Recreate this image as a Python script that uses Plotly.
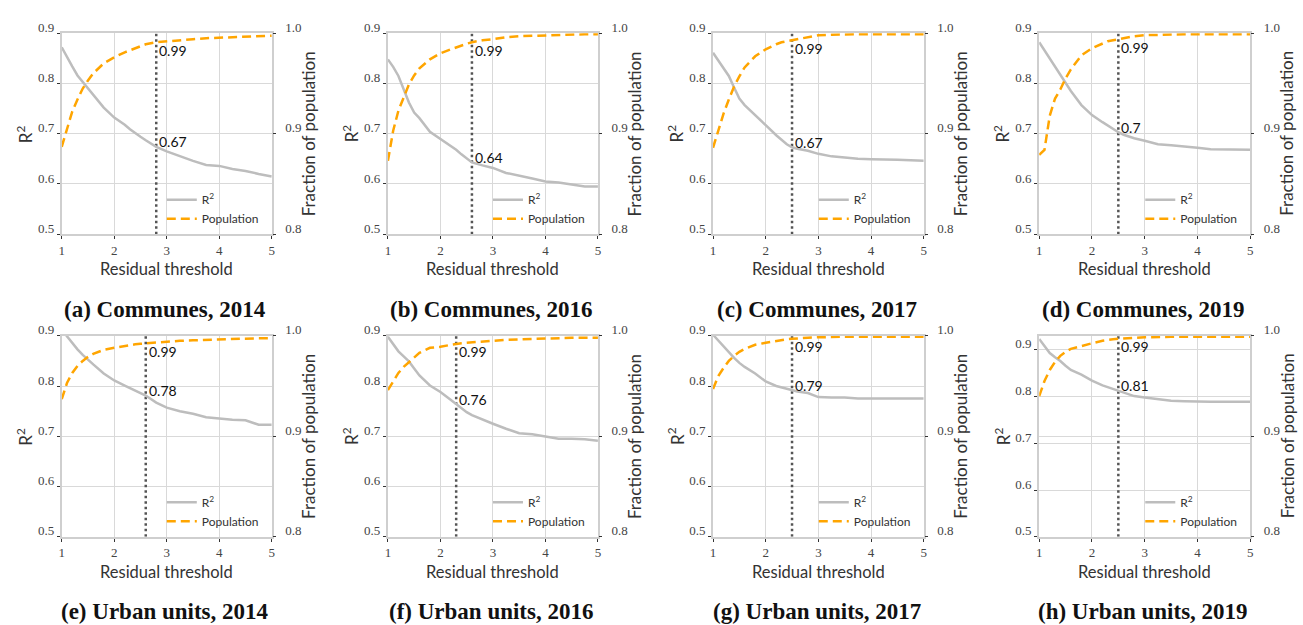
import math
import plotly.graph_objects as go

# Residual thresholds at which the fit was evaluated
THRESHOLDS = [1.0, 1.1, 1.2, 1.3, 1.4, 1.5, 1.6, 1.8, 2.0, 2.2, 2.3, 2.4,
              2.5, 2.6, 2.8, 3.0, 3.25, 3.5, 3.75, 4.0, 4.25, 4.5, 4.75, 5.0]

PANEL_TITLES = ["(a) Communes, 2014", "(b) Communes, 2016",
                "(c) Communes, 2017", "(d) Communes, 2019",
                "(e) Urban units, 2014", "(f) Urban units, 2016",
                "(g) Urban units, 2017", "(h) Urban units, 2019"]

# Chosen cut-off for each panel (dotted vertical line)
CUTOFFS = [2.8, 2.6, 2.5, 2.5, 2.6, 2.3, 2.5, 2.5]

# R^2 of the fit after removing units above the threshold
r2_communes_2014 = [0.872, 0.852, 0.834, 0.816, 0.803, 0.790, 0.777, 0.752, 0.732, 0.718, 0.709, 0.701,
                    0.694, 0.687, 0.674, 0.665, 0.655, 0.646, 0.638, 0.636, 0.630, 0.626, 0.620, 0.615]
r2_communes_2016 = [0.848, 0.833, 0.815, 0.789, 0.762, 0.742, 0.731, 0.704, 0.690, 0.676, 0.668, 0.659,
                    0.651, 0.643, 0.637, 0.632, 0.622, 0.617, 0.611, 0.605, 0.603, 0.599, 0.595, 0.595]
r2_communes_2017 = [0.861, 0.846, 0.830, 0.815, 0.792, 0.770, 0.757, 0.738, 0.717, 0.697, 0.687, 0.679,
                    0.673, 0.670, 0.666, 0.660, 0.655, 0.652, 0.650, 0.649, 0.649, 0.648, 0.647, 0.646]
r2_communes_2019 = [0.882, 0.866, 0.850, 0.833, 0.817, 0.800, 0.785, 0.757, 0.737, 0.723, 0.716, 0.709,
                    0.703, 0.698, 0.691, 0.686, 0.679, 0.677, 0.675, 0.672, 0.669, 0.669, 0.668, 0.668]
r2_urban_2014 = [0.912, 0.899, 0.885, 0.873, 0.862, 0.852, 0.843, 0.825, 0.811, 0.801, 0.796, 0.791,
                 0.786, 0.781, 0.767, 0.757, 0.750, 0.745, 0.738, 0.735, 0.733, 0.732, 0.723, 0.723]
r2_urban_2016 = [0.898, 0.883, 0.869, 0.859, 0.849, 0.835, 0.821, 0.801, 0.788, 0.772, 0.764, 0.757,
                 0.748, 0.742, 0.733, 0.725, 0.715, 0.706, 0.704, 0.700, 0.695, 0.695, 0.694, 0.691]
r2_urban_2017 = [0.902, 0.890, 0.878, 0.866, 0.856, 0.846, 0.838, 0.825, 0.809, 0.800, 0.797, 0.794,
                 0.791, 0.789, 0.786, 0.778, 0.777, 0.777, 0.775, 0.775, 0.775, 0.775, 0.775, 0.775]
r2_urban_2019 = [0.923, 0.908, 0.893, 0.884, 0.876, 0.866, 0.857, 0.847, 0.834, 0.824, 0.820, 0.816,
                 0.813, 0.809, 0.801, 0.798, 0.795, 0.791, 0.790, 0.789, 0.789, 0.789, 0.789, 0.789]

# Fraction of the population kept at each threshold
pop_communes_2014 = [0.887, 0.905, 0.922, 0.934, 0.945, 0.953, 0.960, 0.970, 0.976, 0.981, 0.983, 0.985,
                     0.987, 0.989, 0.991, 0.992, 0.993, 0.994, 0.995, 0.9955, 0.996, 0.9965, 0.997, 0.9975]
pop_communes_2016 = [0.873, 0.903, 0.923, 0.937, 0.949, 0.958, 0.965, 0.974, 0.980, 0.984, 0.986, 0.988,
                     0.9895, 0.991, 0.993, 0.994, 0.996, 0.997, 0.9975, 0.998, 0.9985, 0.9988, 0.999, 0.999]
pop_communes_2017 = [0.886, 0.904, 0.920, 0.934, 0.947, 0.957, 0.966, 0.977, 0.984, 0.989, 0.991, 0.992,
                     0.993, 0.994, 0.996, 0.998, 0.9985, 0.999, 0.999, 0.999, 0.999, 0.999, 0.999, 0.999]
pop_communes_2019 = [0.879, 0.884, 0.918, 0.935, 0.944, 0.955, 0.964, 0.978, 0.985, 0.990, 0.992, 0.993,
                     0.994, 0.995, 0.997, 0.998, 0.9985, 0.999, 0.999, 0.999, 0.999, 0.999, 0.999, 0.999]
pop_urban_2014 = [0.937, 0.953, 0.963, 0.970, 0.975, 0.979, 0.982, 0.986, 0.988, 0.990, 0.991, 0.9915,
                  0.992, 0.9925, 0.993, 0.994, 0.995, 0.9955, 0.996, 0.9965, 0.997, 0.997, 0.9975, 0.9975]
pop_urban_2016 = [0.946, 0.955, 0.963, 0.969, 0.974, 0.979, 0.983, 0.988, 0.989, 0.991, 0.992, 0.9925,
                  0.993, 0.9935, 0.9945, 0.995, 0.996, 0.9965, 0.997, 0.9975, 0.998, 0.998, 0.998, 0.998]
pop_urban_2017 = [0.947, 0.960, 0.968, 0.975, 0.980, 0.984, 0.987, 0.991, 0.993, 0.995, 0.996, 0.9965,
                  0.997, 0.9975, 0.998, 0.9985, 0.999, 0.999, 0.999, 0.999, 0.999, 0.999, 0.999, 0.999]
pop_urban_2019 = [0.940, 0.955, 0.966, 0.974, 0.980, 0.984, 0.987, 0.990, 0.9925, 0.995, 0.996, 0.9965,
                  0.997, 0.9975, 0.998, 0.9985, 0.999, 0.999, 0.999, 0.999, 0.999, 0.999, 0.999, 0.999]

R2_SERIES = [r2_communes_2014, r2_communes_2016, r2_communes_2017, r2_communes_2019,
             r2_urban_2014, r2_urban_2016, r2_urban_2017, r2_urban_2019]
POP_SERIES = [pop_communes_2014, pop_communes_2016, pop_communes_2017, pop_communes_2019,
              pop_urban_2014, pop_urban_2016, pop_urban_2017, pop_urban_2019]

# Upper limit of the R^2 axis for each panel
R2_TOP = [0.9, 0.9, 0.9, 0.9, 0.9, 0.9, 0.9, 0.93]
R2_TICKS = [0.5, 0.6, 0.7, 0.8, 0.9]
POP_TICKS = [0.8, 0.9, 1.0]
X_TICKS = [1, 2, 3, 4, 5]

# ---- page geometry (pixels) ----
W, H = 1303, 625
COL_PX = [(59, 270), (386.7, 597.7), (713.3, 925), (1041, 1253)]
ROW_PX = [(20.7, 226.7), (330.7, 536.7)]

GREY = "#bdbdbd"
ORANGE = "#ffa500"
GRID = "#d9d9d9"
SPINE = "#cfcfcf"
SANS = "Lato, 'Open Sans', sans-serif"
SERIF = "'Liberation Serif', 'DejaVu Serif', serif"


def px_x(px):
    return px / W


def px_y(py):
    return 1 - py / H


def interp(xs, ys, x):
    for i in range(len(xs) - 1):
        if xs[i] <= x <= xs[i + 1]:
            t = (x - xs[i]) / (xs[i + 1] - xs[i])
            return ys[i] + t * (ys[i + 1] - ys[i])
    return ys[-1]


def label(v):
    # two decimals, truncated
    v = math.floor(v * 100 + 1e-9) / 100
    return f"{v:g}"


fig = go.Figure()
annotations = []
layout = {}

for i in range(8):
    row, col = divmod(i, 4)
    n = i + 1
    left_id, right_id = 2 * n - 1, 2 * n
    xref = "x" if n == 1 else f"x{n}"
    yl = "y" if left_id == 1 else f"y{left_id}"
    yr = f"y{right_id}"
    xname = "xaxis" if n == 1 else f"xaxis{n}"
    ylname = "yaxis" if left_id == 1 else f"yaxis{left_id}"
    yrname = f"yaxis{right_id}"
    legname = "legend" if n == 1 else f"legend{n}"

    x0, x1 = COL_PX[col]
    y0, y1 = ROW_PX[row]
    xdom = [px_x(x0), px_x(x1)]
    ydom = [px_y(y1), px_y(y0)]

    layout[xname] = dict(
        domain=xdom, anchor=yl, range=[1, 5], tickvals=X_TICKS,
        showgrid=True, gridcolor=GRID, gridwidth=1.2,
        showline=True, linecolor=SPINE, linewidth=2, mirror=True,
        ticks="outside", ticklen=3, tickcolor="#333", tickwidth=1,
        tickfont=dict(family=SERIF, size=13, color="#444"), zeroline=False,
    )
    layout[ylname] = dict(
        domain=ydom, anchor=xref, range=[0.5, R2_TOP[i]], tickvals=R2_TICKS,
        tickformat=".1f", showgrid=True, gridcolor=GRID, gridwidth=1.2,
        showline=True, linecolor=SPINE, linewidth=2, mirror=True,
        ticks="outside", ticklen=3, tickcolor="#333", tickwidth=1,
        tickfont=dict(family=SERIF, size=13, color="#444"), zeroline=False,
        ticklabelshift=-6,
    )
    layout[yrname] = dict(
        domain=ydom, anchor=xref, overlaying=yl, side="right",
        range=[0.8, 1.0], tickvals=POP_TICKS, tickformat=".1f",
        showgrid=True, gridcolor=GRID, gridwidth=1.2, showline=False,
        ticks="outside", ticklen=3, tickcolor="#333", tickwidth=1,
        tickfont=dict(family=SERIF, size=13, color="#444"), zeroline=False,
        ticklabelshift=-6, ticklabelstandoff=7,
    )

    r2 = R2_SERIES[i]
    pop = POP_SERIES[i]
    cut = CUTOFFS[i]

    fig.add_trace(go.Scatter(
        x=[cut, cut], y=[0.5, R2_TOP[i]], xaxis=xref, yaxis=yl, mode="lines",
        line=dict(color="#555555", width=2.5, dash="2.5px,3px"),
        showlegend=False, hoverinfo="skip"))
    fig.add_trace(go.Scatter(
        x=THRESHOLDS, y=r2, xaxis=xref, yaxis=yl, mode="lines",
        name="R<sup>2</sup>", legend=legname,
        line=dict(color=GREY, width=2.5)))
    fig.add_trace(go.Scatter(
        x=THRESHOLDS, y=pop, xaxis=xref, yaxis=yr, mode="lines",
        name="Population", legend=legname,
        line=dict(color=ORANGE, width=2.5, dash="9px,5px")))

    layout[legname] = dict(
        x=px_x(x1 - 8), xanchor="right", y=px_y(y1 - 1), yanchor="bottom",
        bgcolor="rgba(0,0,0,0)", borderwidth=0, tracegroupgap=0,
        font=dict(family=SANS, size=12, color="#333"),
    )

    # value labels at the cut-off
    r2_cut = interp(THRESHOLDS, r2, cut)
    pop_cut = interp(THRESHOLDS, pop, cut)
    annotations.append(dict(
        x=cut, y=r2_cut, xref=xref, yref=yl, text=label(r2_cut),
        showarrow=False, xanchor="left", yanchor="middle", xshift=1, yshift=5,
        font=dict(family=SANS, size=14, color="#111")))
    annotations.append(dict(
        x=cut, y=pop_cut, xref=xref, yref=yr, text=label(pop_cut),
        showarrow=False, xanchor="left", yanchor="middle", xshift=1, yshift=-8,
        font=dict(family=SANS, size=14, color="#111")))

    # axis titles
    annotations.append(dict(
        x=px_x((x0 + x1) / 2), y=px_y(y1 + 36), xref="paper", yref="paper",
        text="Residual threshold", showarrow=False, xanchor="center", yanchor="middle",
        font=dict(family=SANS, size=16.5, color="#333")))
    annotations.append(dict(
        x=px_x(x0 - 37.5), y=px_y((y0 + y1) / 2), xref="paper", yref="paper",
        text="R<sup>2</sup>", textangle=-90, showarrow=False,
        xanchor="center", yanchor="middle",
        font=dict(family=SANS, size=17, color="#333")))
    annotations.append(dict(
        x=px_x(x1 + 37), y=px_y((y0 + y1) / 2), xref="paper", yref="paper",
        text="Fraction of population", textangle=-90, showarrow=False,
        xanchor="center", yanchor="middle",
        font=dict(family=SANS, size=17, color="#333")))

    # panel caption
    annotations.append(dict(
        x=px_x((x0 + x1) / 2 - 1.5), y=px_y(y1 + 77), xref="paper", yref="paper",
        text=f"<b>{PANEL_TITLES[i]}</b>", showarrow=False,
        xanchor="center", yanchor="middle",
        font=dict(family=SERIF, size=23, color="#111")))

fig.update_layout(
    width=W, height=H,
    margin=dict(l=0, r=0, t=0, b=0),
    paper_bgcolor="white", plot_bgcolor="white",
    annotations=annotations,
    **layout,
)

fig.write_html("out.html")
